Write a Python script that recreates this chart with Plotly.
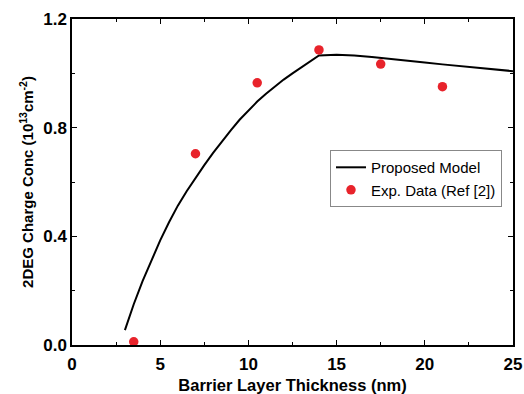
import plotly.graph_objects as go

# Model curve: barrier thickness (nm) vs 2DEG sheet density (1e13 cm^-2)
model_t = [3, 3.5, 4, 4.5, 5, 5.5, 6, 6.5, 7, 7.5, 8, 8.5, 9, 9.5, 10, 10.5,
           11, 11.5, 12, 12.5, 13, 13.5, 14, 15, 16, 17, 18, 19, 20, 21, 22,
           23, 24, 25]
model_n = [0.055, 0.15, 0.235, 0.313, 0.385, 0.452, 0.513, 0.566, 0.615,
           0.662, 0.707, 0.75, 0.79, 0.829, 0.864, 0.896, 0.925, 0.952, 0.977,
           1.0, 1.022, 1.044, 1.066, 1.068, 1.066, 1.06, 1.054, 1.047, 1.04,
           1.033, 1.027, 1.02, 1.014, 1.008]

# Experimental data points
exp_t = [3.5, 7, 10.5, 14, 17.5, 21]
exp_n = [0.012, 0.704, 0.965, 1.086, 1.034, 0.951]

x_ticks = [0, 5, 10, 15, 20, 25]
y_ticks = [0.0, 0.4, 0.8, 1.2]
y_tick_text = ["0.0", "0.4", "0.8", "1.2"]

font_family = "Liberation Sans, Arial, sans-serif"

fig = go.Figure()
fig.add_trace(go.Scatter(
    x=model_t, y=model_n, mode="lines", name="Proposed Model",
    line=dict(color="black", width=2),
))
fig.add_trace(go.Scatter(
    x=exp_t, y=exp_n, mode="markers", name="Exp. Data (Ref [2])",
    marker=dict(color="#e8232b", size=9.5),
))

axis_common = dict(
    showline=True, linecolor="black", linewidth=1.5, mirror="ticks",
    ticks="inside", ticklen=5, tickwidth=1.2, tickcolor="black",
    showgrid=False, zeroline=False, automargin=False,
    tickfont=dict(family=font_family, size=17, color="black", weight="bold"),
)

fig.update_xaxes(
    range=[0, 25], tickvals=x_ticks, ticklabelstandoff=3,
    minor=dict(tickvals=[2.5, 7.5, 12.5, 17.5, 22.5], ticks="inside",
               ticklen=3, tickwidth=1.2, tickcolor="black"),
    title=dict(text="Barrier Layer Thickness (nm)", standoff=12,
               font=dict(family=font_family, size=16.5, color="black", weight="bold")),
    **axis_common,
)
fig.update_yaxes(
    range=[0, 1.2], tickvals=y_ticks, ticktext=y_tick_text,
    minor=dict(tickvals=[0.2, 0.6, 1.0], ticks="inside",
               ticklen=3, tickwidth=1.2, tickcolor="black"),
    title=dict(text="2DEG Charge Conc (10<sup>13</sup>cm<sup>-2</sup>)", standoff=6,
               font=dict(family=font_family, size=15, color="black", weight="bold")),
    **axis_common,
)

fig.update_layout(
    width=524, height=394,
    margin=dict(l=72, r=11, t=19, b=49),
    paper_bgcolor="white", plot_bgcolor="white",
    showlegend=True,
    legend=dict(
        x=0.585, y=0.598, xanchor="left", yanchor="top",
        bgcolor="white", bordercolor="#888888", borderwidth=1,
        font=dict(family=font_family, size=15, color="black"),
        tracegroupgap=0, itemwidth=30, entrywidth=122,
    ),
)

fig.write_html("out.html")
